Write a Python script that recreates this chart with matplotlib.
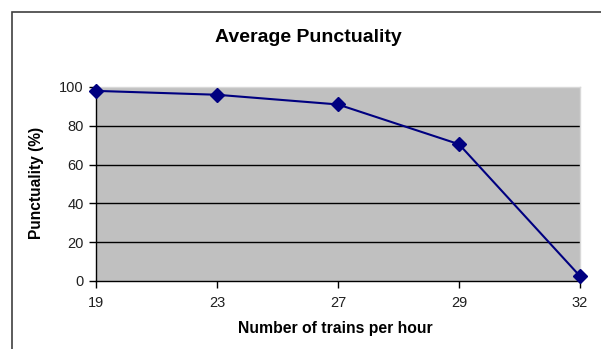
import matplotlib.pyplot as plt
from matplotlib.patches import Rectangle

trains_per_hour = ["19", "23", "27", "29", "32"]
punctuality = [98, 96, 91, 70.5, 2.5]
y_ticks = [0, 20, 40, 60, 80, 100]

plt.rcParams['font.family'] = ['Liberation Sans', 'DejaVu Sans']

fig = plt.figure(figsize=(6.01, 3.49), dpi=100)
fig.patch.set_facecolor('white')

# chart frame (Excel style box running off the right/bottom)
frame = Rectangle((12 / 601, -0.1), 1.2, 1 - 12 / 349 + 0.1, transform=fig.transFigure,
                  fill=False, edgecolor='#404040', linewidth=1.2)
fig.patches.append(frame)

ax = fig.add_axes([96 / 601, 1 - 281 / 349, (580 - 96) / 601, (281 - 87) / 349])
ax.set_facecolor('#c0c0c0')

x = list(range(len(trains_per_hour)))
ax.plot(x, punctuality, color='#000080', linewidth=1.5, marker='D',
        markersize=7, markerfacecolor='#000080', markeredgecolor='#000080', zorder=3,
        clip_on=False)

ax.set_xlim(0, len(trains_per_hour) - 1)
ax.set_ylim(0, 100)
ax.set_xticks(x)
ax.set_xticklabels(trains_per_hour)
ax.set_yticks(y_ticks)

for v in y_ticks[1:-1]:
    ax.axhline(v, color='black', linewidth=1.0, zorder=1)

for side in ['top', 'right']:
    ax.spines[side].set_color('#d8d8d8')
    ax.spines[side].set_linewidth(1.0)
for side in ['left', 'bottom']:
    ax.spines[side].set_color('black')
    ax.spines[side].set_linewidth(1.0)

ax.tick_params(axis='both', direction='out', length=5, width=1, colors='black',
               labelsize=10.5, pad=4)
ax.tick_params(axis='x', pad=6)
for lbl in ax.get_xticklabels() + ax.get_yticklabels():
    lbl.set_color('#202020')

fig.text(308 / 601, 1 - 38 / 349, "Average Punctuality", ha='center', va='center',
         fontsize=14, fontweight='bold')
fig.text(335 / 601, 1 - 328 / 349, "Number of trains per hour", ha='center', va='center',
         fontsize=11.3, fontweight='bold')
fig.text(37 / 601, 1 - 183 / 349, "Punctuality (%)", ha='center', va='center',
         fontsize=11.2, fontweight='bold', rotation=90)

fig.savefig('out.png', dpi=100)
